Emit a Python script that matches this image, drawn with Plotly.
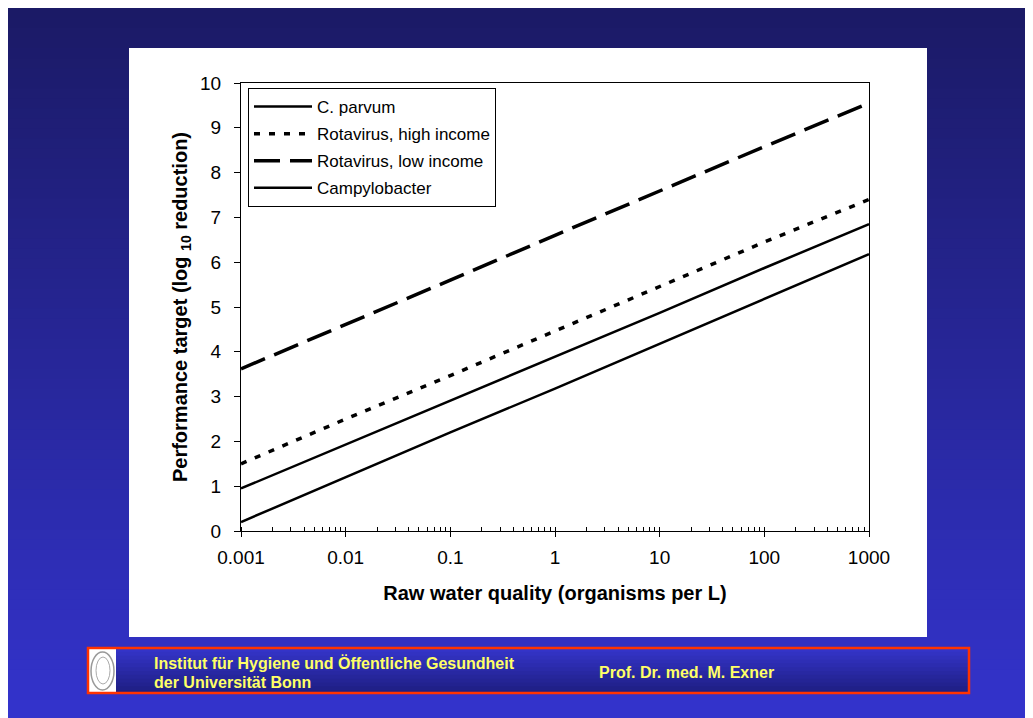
import plotly.graph_objects as go

# ---------------- data ----------------
raw_water = [0.001, 0.01, 0.1, 1, 10, 100, 1000]
c_parvum = [0.95, 1.93, 2.9, 3.88, 4.87, 5.87, 6.85]
rota_high = [1.5, 2.5, 3.47, 4.47, 5.47, 6.45, 7.4]
rota_low = [3.62, 4.6, 5.6, 6.6, 7.6, 8.58, 9.55]
campylobacter = [0.2, 1.2, 2.2, 3.18, 4.18, 5.18, 6.18]

series_names = ["C. parvum", "Rotavirus, high income", "Rotavirus, low income", "Campylobacter"]
x_tick_vals = [0.001, 0.01, 0.1, 1, 10, 100, 1000]
x_tick_text = ["0.001", "0.01", "0.1", "1", "10", "100", "1000"]
y_tick_vals = list(range(0, 11))

footer_left_1 = "Institut für Hygiene und Öffentliche Gesundheit"
footer_left_2 = "der Universität Bonn"
footer_right = "Prof. Dr. med. M. Exner"

# ---------------- geometry helpers (page pixels -> paper) ----------------
OFF = 8                      # page body margin of the browser
W, H = 1033 - OFF, 718 - OFF
PL, PR, PT, PB = 241, 869, 83, 531   # plot area in page pixels


def px(X):
    return (X - PL) / (PR - PL)


def py(Y):
    return (PB - Y) / (PB - PT)


def lerp_color(c1, c2, t):
    return "rgb(%d,%d,%d)" % tuple(round(a + (b - a) * t) for a, b in zip(c1, c2))


FONT = "Liberation Sans, Arial, sans-serif"

fig = go.Figure()

styles = [
    dict(color="black", width=2.5, dash="solid"),
    dict(color="black", width=3.5, dash="6px,9px"),
    dict(color="black", width=3.5, dash="26px,10px"),
    dict(color="black", width=2.5, dash="solid"),
]
for name, ys, st in zip(series_names, [c_parvum, rota_high, rota_low, campylobacter], styles):
    fig.add_trace(go.Scatter(x=raw_water, y=ys, mode="lines", name=name,
                             legendgroup=name, line=st))

shapes = []
# slide background gradient
N = 71
top_c, bot_c = (27, 26, 102), (51, 51, 204)
step = (H + 2) / N
for i in range(N):
    ya = OFF + i * step
    yb = ya + step + 3
    shapes.append(dict(type="rect", xref="paper", yref="paper", layer="below",
                       x0=px(OFF - 2), x1=px(1033 + 2), y0=py(ya), y1=py(min(yb, 720)),
                       fillcolor=lerp_color(top_c, bot_c, i / (N - 1)), line=dict(width=0)))
# white chart panel
shapes.append(dict(type="rect", xref="paper", yref="paper", layer="below",
                   x0=px(129), x1=px(927), y0=py(48), y1=py(637),
                   fillcolor="white", line=dict(width=0)))
# footer inner gradient
M = 12
f_top, f_bot = (52, 52, 200), (30, 30, 130)
fstep = 46 / M
for i in range(M):
    ya = 648 + i * fstep
    yb = min(ya + fstep + 2, 694)
    shapes.append(dict(type="rect", xref="paper", yref="paper", layer="below",
                       x0=px(88), x1=px(969), y0=py(ya), y1=py(yb),
                       fillcolor=lerp_color(f_top, f_bot, i / (M - 1)), line=dict(width=0)))
# footer logo area
shapes.append(dict(type="rect", xref="paper", yref="paper", layer="below",
                   x0=px(89), x1=px(116), y0=py(649), y1=py(693),
                   fillcolor="white", line=dict(width=0)))
shapes.append(dict(type="circle", xref="paper", yref="paper", layer="below",
                   x0=px(91), x1=px(114), y0=py(652), y1=py(690),
                   fillcolor="rgba(0,0,0,0)", line=dict(color="#999999", width=1.5)))
shapes.append(dict(type="circle", xref="paper", yref="paper", layer="below",
                   x0=px(96), x1=px(110), y0=py(657), y1=py(684),
                   fillcolor="rgba(0,0,0,0)", line=dict(color="#aaaaaa", width=1)))
# footer red border
shapes.append(dict(type="rect", xref="paper", yref="paper", layer="below",
                   x0=px(88), x1=px(969), y0=py(648), y1=py(693),
                   fillcolor="rgba(0,0,0,0)", line=dict(color="#ff3300", width=2.5)))

annotations = [
    dict(xref="paper", yref="paper", x=px(152), y=py(663), xanchor="left", yanchor="middle",
         text="<b>%s</b>" % footer_left_1, showarrow=False,
         font=dict(family=FONT, size=16, color="#ffff66")),
    dict(xref="paper", yref="paper", x=px(152), y=py(682), xanchor="left", yanchor="middle",
         text="<b>%s</b>" % footer_left_2, showarrow=False,
         font=dict(family=FONT, size=16, color="#ffff66")),
    dict(xref="paper", yref="paper", x=px(597), y=py(672), xanchor="left", yanchor="middle",
         text="<b>%s</b>" % footer_right, showarrow=False,
         font=dict(family=FONT, size=16, color="#ffff66")),
]

fig.update_layout(
    width=W, height=H,
    margin=dict(l=PL - OFF, r=1033 - PR, t=PT - OFF, b=718 - PB, pad=0),
    paper_bgcolor="rgb(39,39,153)", plot_bgcolor="white",
    shapes=shapes, annotations=annotations,
    font=dict(family=FONT, color="black"),
    showlegend=True,
    legend=dict(x=px(248), y=py(88), xanchor="left", yanchor="top",
                bgcolor="white", bordercolor="black", borderwidth=1,
                font=dict(family=FONT, size=17, color="black"),
                itemwidth=58,
                tracegroupgap=2, traceorder="grouped"),
    xaxis=dict(type="log", range=[-3, 3], tickvals=x_tick_vals, ticktext=x_tick_text,
               showgrid=False, zeroline=False, showline=True, linecolor="black", linewidth=1,
               mirror=True, ticks="outside", ticklen=5, tickcolor="black",
               ticklabelstandoff=4,
               tickfont=dict(family=FONT, size=19, color="black"),
               minor=dict(ticks="inside", ticklen=4, tickcolor="black", dtick="D1", showgrid=False),
               title=dict(text="<b>Raw water quality (organisms per L)</b>",
                          font=dict(family=FONT, size=20, color="black"), standoff=19)),
    yaxis=dict(range=[0, 10], tickvals=y_tick_vals,
               showgrid=False, zeroline=False, showline=True, linecolor="black", linewidth=1,
               mirror=True, ticks="outside", ticklen=6, tickcolor="black",
               ticklabelstandoff=9,
               tickfont=dict(family=FONT, size=19, color="black"),
               title=dict(text="<b>Performance target (log <sub>10</sub> reduction)</b>",
                          font=dict(family=FONT, size=20, color="black"), standoff=7)),
)

fig.write_html("out.html")
